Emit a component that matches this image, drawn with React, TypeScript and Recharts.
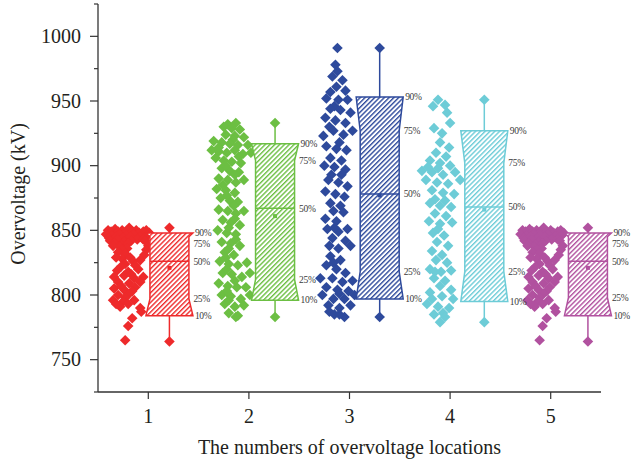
import React from 'react';
import { ComposedChart, Scatter, XAxis, YAxis } from 'recharts';

const FONT = '"Liberation Serif", "DejaVu Serif", serif';
const TEXT = '#231f20';
const AXIS = '#333333';

const categories = [1, 2, 3, 4, 5];
const yTicks = [725, 750, 775, 800, 825, 850, 875, 900, 925, 950, 975, 1000, 1025];
const yLabeledTicks = [750, 800, 850, 900, 950, 1000];
const percentLabels = ['90%', '75%', '50%', '25%', '10%'];
const groupColors = ['#EE2A2B', '#6CBF43', '#2E4A9C', '#6DCCD7', '#B1519F'];

// scatter clouds [x, overvoltage kV]
const cloud1: [number, number][] = [
  [0.60, 850], [0.67, 851], [0.74, 850], [0.81, 852], [0.88, 850], [0.95, 849], [1.01, 848],
  [0.63, 849], [0.70, 849], [0.77, 848], [0.84, 849], [0.91, 848], [0.98, 850],
  [0.58, 847], [0.64, 846], [0.71, 847], [0.78, 846], [0.85, 847], [0.92, 845], [0.99, 846],
  [0.61, 844], [0.68, 845], [0.75, 844], [0.82, 845], [0.89, 843], [0.95, 843],
  [0.62, 842], [0.69, 843], [0.76, 841], [0.83, 842], [0.97, 842],
  [0.66, 840], [0.73, 839], [0.80, 840],
  [0.65, 838], [0.72, 837], [0.79, 836], [1.00, 838],
  [0.74, 835], [0.98, 835],
  [0.70, 833], [0.77, 832], [0.96, 831],
  [0.74, 828], [0.82, 829], [0.92, 827], [0.68, 829], [0.85, 826],
  [0.77, 824], [0.87, 823], [0.73, 822],
  [0.69, 819], [0.80, 818], [0.90, 820],
  [0.66, 814], [0.76, 815], [0.86, 813], [0.95, 814], [0.83, 816],
  [0.70, 810], [0.81, 809], [0.92, 810],
  [0.66, 805], [0.76, 804], [0.87, 806], [0.73, 807], [0.84, 803],
  [0.70, 800], [0.81, 801], [0.77, 798],
  [0.65, 796], [0.75, 795], [0.86, 796],
  [0.72, 791], [0.92, 790], [0.68, 793], [0.80, 793],
  [0.93, 787], [0.84, 782], [0.80, 776], [0.77, 765],
];

const cloud2: [number, number][] = [
  [1.79, 932], [1.87, 933], [1.75, 930], [1.83, 929], [1.91, 928],
  [1.77, 924], [1.86, 923], [1.95, 922], [1.84, 920],
  [1.65, 919], [1.73, 918], [1.81, 917], [1.89, 916], [1.99, 916],
  [1.63, 912], [1.70, 911], [1.78, 910], [1.86, 912], [1.94, 909], [2.02, 910], [1.70, 914],
  [1.67, 906], [1.75, 904], [1.83, 903], [1.92, 902], [1.90, 907],
  [1.73, 898], [1.81, 896], [1.90, 895], [1.77, 900],
  [1.70, 890], [1.79, 889], [1.87, 887], [1.95, 889], [1.86, 893],
  [1.68, 882], [1.77, 881], [1.86, 879], [1.74, 885],
  [1.72, 875], [1.81, 873], [1.89, 872], [1.78, 877],
  [1.70, 866], [1.79, 865], [1.87, 863], [1.95, 865], [1.85, 869],
  [1.74, 858], [1.82, 856], [1.91, 854], [1.86, 859],
  [1.69, 850], [1.78, 848], [1.87, 847], [1.80, 852],
  [1.73, 841], [1.82, 840], [1.91, 838], [1.87, 843],
  [1.76, 833], [1.85, 831], [1.80, 836],
  [1.71, 826], [1.80, 824], [1.89, 823], [1.98, 825], [1.77, 829],
  [1.74, 817], [1.83, 816], [1.93, 814], [2.01, 817], [1.78, 820],
  [1.70, 809], [1.79, 807], [1.88, 806], [1.97, 806], [1.86, 811],
  [1.73, 800], [1.82, 799], [1.92, 797], [2.01, 800], [1.78, 803],
  [1.76, 793], [1.86, 791], [1.95, 792], [1.80, 796],
  [1.80, 786], [1.89, 784], [1.87, 783],
];

const cloud3: [number, number][] = [
  [2.88, 991], [2.86, 978], [2.88, 973],
  [2.83, 969], [2.93, 966], [2.87, 961], [2.81, 957], [2.96, 958], [2.77, 952], [2.89, 951], [2.98, 951],
  [2.85, 946], [2.81, 944], [2.91, 943], [3.01, 941], [2.76, 937], [2.86, 935], [2.96, 933],
  [2.80, 930], [2.74, 923], [2.84, 927], [2.94, 924], [3.03, 927],
  [2.90, 918], [2.77, 915], [2.87, 913], [2.97, 912], [2.81, 906], [2.92, 904], [2.75, 900], [2.85, 899], [2.96, 897],
  [2.82, 893], [2.92, 893],
  [2.79, 889], [2.89, 887], [2.98, 884], [2.76, 880], [2.86, 878], [2.95, 876], [2.81, 871], [2.91, 869],
  [2.84, 865], [2.94, 864], [2.76, 859], [2.87, 857], [2.78, 851], [2.89, 849], [2.98, 851], [2.83, 844],
  [2.85, 852], [2.96, 842], [2.89, 836], [3.01, 838], [2.80, 838],
  [2.81, 830], [2.91, 827], [2.77, 823], [2.87, 820], [2.84, 825],
  [2.96, 817], [2.71, 813], [2.83, 813], [2.93, 810], [3.03, 811], [2.77, 806], [2.88, 804], [2.99, 803],
  [2.73, 800], [2.84, 797], [2.95, 797], [3.05, 800], [2.90, 801], [2.79, 792], [2.90, 790], [3.01, 792],
  [2.80, 787], [2.85, 785], [2.95, 783], [2.90, 785],
];

const cloud4: [number, number][] = [
  [3.88, 951], [3.95, 947], [3.83, 946], [3.97, 941], [4.00, 933], [3.84, 929], [3.92, 925],
  [3.90, 918], [3.99, 914], [3.86, 910], [3.96, 907],
  [3.80, 904], [3.90, 902], [4.00, 900], [3.72, 896], [3.82, 895], [3.93, 893], [4.05, 895],
  [3.78, 899], [3.88, 898],
  [3.76, 889], [3.87, 887], [3.98, 886], [4.10, 889], [3.82, 881], [3.93, 879], [4.04, 878],
  [3.85, 874], [3.95, 873],
  [3.80, 871], [3.90, 869], [4.01, 868], [3.85, 863], [3.96, 861], [3.79, 857], [3.90, 855], [4.02, 856],
  [3.88, 851],
  [3.83, 848], [3.94, 846], [3.87, 841], [3.98, 838], [3.82, 834], [3.92, 831],
  [3.86, 827], [3.97, 825], [3.80, 820], [3.91, 818], [4.01, 819], [3.84, 813], [3.95, 811], [3.85, 818],
  [3.90, 807], [4.01, 804], [3.80, 802], [3.92, 799], [4.03, 797], [3.77, 793], [3.88, 791], [3.99, 790],
  [3.82, 797], [3.93, 786],
  [3.84, 785], [3.95, 783], [3.90, 779],
];

const cloud5: [number, number][] = [
  [4.72, 850], [4.79, 851], [4.86, 850], [4.93, 852], [5.00, 850], [5.07, 849], [5.13, 848],
  [4.75, 849], [4.82, 849], [4.89, 848], [4.96, 849], [5.03, 848], [5.10, 850],
  [4.70, 847], [4.76, 846], [4.83, 847], [4.90, 846], [4.97, 847], [5.04, 845], [5.11, 846],
  [4.73, 844], [4.80, 845], [4.87, 844], [4.94, 845], [5.01, 843], [5.07, 843],
  [4.74, 842], [4.81, 843], [4.88, 841], [4.95, 842], [5.09, 842],
  [4.78, 840], [4.85, 839], [4.92, 840],
  [4.77, 838], [4.84, 837], [4.91, 836], [5.12, 838],
  [4.86, 835], [5.10, 835],
  [4.82, 833], [4.89, 832], [5.08, 831],
  [4.86, 828], [4.94, 829], [5.04, 827], [4.80, 829], [4.97, 826],
  [4.89, 824], [4.99, 823], [4.85, 822],
  [4.81, 819], [4.92, 818], [5.02, 820],
  [4.78, 814], [4.88, 815], [4.98, 813], [5.07, 814], [4.95, 816],
  [4.82, 810], [4.93, 809], [5.04, 810],
  [4.78, 805], [4.88, 804], [4.99, 806], [4.85, 807], [4.96, 803],
  [4.82, 800], [4.93, 801], [4.89, 798],
  [4.77, 796], [4.87, 795], [4.98, 796],
  [4.84, 791], [5.04, 790], [4.80, 793], [4.92, 793],
  [5.05, 787], [4.96, 782], [4.92, 776], [4.89, 765],
];

const clouds = [cloud1, cloud2, cloud3, cloud4, cloud5];

// box statistics
const boxCenters = [1.21, 2.26, 3.30, 4.34, 5.37];
const maxValues = [852, 933, 991, 951, 852];
const p90Values = [848, 917, 953, 927, 848];
const p75Values = [845, 904, 927, 902, 845];
const p50Values = [826, 867, 878, 868, 826];
const p25Values = [797, 812, 818, 818, 798];
const p10Values = [784, 796, 797, 795, 784];
const minValues = [764, 783, 783, 779, 764];
const meanValues = [821, 861, 877, 866, 821];

const cloudData = clouds.map((c) => c.map(([x, y]) => ({ x, y })));
const boxData = categories.map((_, g) => {
  const c = boxCenters[g];
  return [
    { x: c, y: maxValues[g], k: 'max' },
    { x: c, y: p90Values[g], k: 'p90' },
    { x: c, y: p75Values[g], k: 'p75' },
    { x: c, y: p50Values[g], k: 'p50' },
    { x: c, y: p25Values[g], k: 'p25' },
    { x: c, y: p10Values[g], k: 'p10' },
    { x: c, y: minValues[g], k: 'min' },
    { x: c, y: meanValues[g], k: 'mean' },
  ];
});

const HALF = 23.5;
const INSET = 4;
const DR = 5.3;

const diamond = (cx: number, cy: number, fill: string) => (
  <polygon points={`${cx},${cy - DR} ${cx + DR},${cy} ${cx},${cy + DR} ${cx - DR},${cy}`} fill={fill} />
);

const makeCloudShape = (color: string) => (p: any) => diamond(p.cx, p.cy, color);

const makeBoxShape = (color: string) => (p: any) => {
  const k = p.payload && p.payload.k;
  if (k === 'max' || k === 'min') return diamond(p.cx, p.cy, color);
  if (k === 'mean') return <rect x={p.cx - 2} y={p.cy - 2} width={4} height={4} fill={color} />;
  return <g />;
};

const makeBoxBody = (g: number) => (lp: any) => {
  const color = groupColors[g];
  const pts = lp.points || [];
  if (pts.length < 7) return <g />;
  const [pMax, p90, p75, p50, p25, p10, pMin] = pts;
  const cx = p90.x;
  const L = cx - HALF;
  const R = cx + HALF;
  const d = `M${L},${p90.y} L${R},${p90.y} L${R - INSET},${p75.y} L${R - INSET},${p25.y} L${R},${p10.y} L${L},${p10.y} L${L + INSET},${p25.y} L${L + INSET},${p75.y} Z`;
  const ys = [p90.y, p75.y, p50.y, p25.y, p10.y];
  for (let i = 1; i < ys.length; i++) {
    if (ys[i] - ys[i - 1] < 10.5) ys[i] = ys[i - 1] + 10.5;
  }
  const xs = [R + 2, R + 0.5, R + 0.5, R + 0.5, R + 2];
  const id = `hatch-${g}`;
  return (
    <g>
      <defs>
        <pattern id={id} width={3.4} height={3.4} patternUnits="userSpaceOnUse" patternTransform="rotate(45)">
          <line x1={0.7} y1={0} x2={0.7} y2={3.4} stroke={color} strokeWidth={1.4} />
        </pattern>
      </defs>
      <line x1={cx} x2={cx} y1={pMax.y} y2={p90.y} stroke={color} strokeWidth={1.5} />
      <line x1={cx} x2={cx} y1={p10.y} y2={pMin.y} stroke={color} strokeWidth={1.5} />
      <path d={d} fill="#ffffff" />
      <path d={d} fill={`url(#${id})`} stroke={color} strokeWidth={1.5} />
      <line x1={L + INSET} x2={R - INSET} y1={p50.y} y2={p50.y} stroke={color} strokeWidth={1.5} />
      {percentLabels.map((t, i) => (
        <text
          key={t}
          x={xs[i]}
          y={ys[i]}
          dy="0.35em"
          fontFamily={FONT}
          fontSize={9.5}
          letterSpacing={-0.3}
          fill="#3a3a3a"
        >
          {t}
        </text>
      ))}
    </g>
  );
};

const YTick = (props: any) => {
  const { x, y, payload } = props;
  const v = payload.value;
  const major = yLabeledTicks.indexOf(v) >= 0;
  return (
    <g>
      <line x1={x - (major ? 8 : 4)} x2={x} y1={y} y2={y} stroke={AXIS} strokeWidth={1.2} />
      {major && (
        <text x={x - 17} y={y} dy="0.34em" textAnchor="end" fontFamily={FONT} fontSize={20} fill={TEXT}>
          {v}
        </text>
      )}
    </g>
  );
};

const XTick = (props: any) => {
  const { x, y, payload } = props;
  return (
    <g>
      <line x1={x} x2={x} y1={y} y2={y + 7} stroke={AXIS} strokeWidth={1.2} />
      <text x={x} y={y + 31} textAnchor="middle" fontFamily={FONT} fontSize={20} fill={TEXT}>
        {payload.value}
      </text>
    </g>
  );
};

const XTitle = (props: any) => {
  const vb = props.viewBox || { x: 98, y: 392, width: 503, height: 72 };
  return (
    <text x={vb.x + vb.width / 2} y={vb.y + vb.height - 10} textAnchor="middle" fontFamily={FONT} fontSize={20} fill={TEXT}>
      The numbers of overvoltage locations
    </text>
  );
};

const YTitle = (props: any) => {
  const vb = props.viewBox || { x: 0, y: 4, width: 98, height: 388 };
  const cx = vb.x + 18;
  const cy = vb.y + vb.height / 2 - 4;
  return (
    <text
      x={cx}
      y={cy}
      transform={`rotate(-90 ${cx} ${cy})`}
      textAnchor="middle"
      dominantBaseline="central"
      fontFamily={FONT}
      fontSize={20}
      fill={TEXT}
    >
      Overvoltage (kV)
    </text>
  );
};

export default function App() {
  return (
    <div style={{ position: 'absolute', left: 0, top: 0, width: 631, height: 464, background: '#fff' }}>
      <ComposedChart width={631} height={464} margin={{ top: 4, right: 30, bottom: 0, left: 0 }}>
        <XAxis
          type="number"
          dataKey="x"
          domain={[0.5, 5.5]}
          ticks={categories}
          interval={0}
          height={72}
          tickSize={0}
          tickMargin={0}
          tickLine={false}
          tick={<XTick />}
          axisLine={{ stroke: AXIS, strokeWidth: 1.3 }}
          label={{ content: <XTitle /> }}
        />
        <YAxis
          type="number"
          dataKey="y"
          domain={[725, 1025]}
          ticks={yTicks}
          interval={0}
          width={98}
          tickSize={0}
          tickMargin={0}
          tickLine={false}
          tick={<YTick />}
          axisLine={{ stroke: AXIS, strokeWidth: 1.3 }}
          label={{ content: <YTitle /> }}
        />
        {cloudData.map((d, g) => (
          <Scatter
            key={`cloud-${g}`}
            data={d}
            fill={groupColors[g]}
            shape={makeCloudShape(groupColors[g])}
            isAnimationActive={false}
          />
        ))}
        {boxData.map((d, g) => (
          <Scatter
            key={`box-${g}`}
            data={d}
            fill={groupColors[g]}
            line={makeBoxBody(g)}
            shape={makeBoxShape(groupColors[g])}
            isAnimationActive={false}
          />
        ))}
      </ComposedChart>
    </div>
  );
}
